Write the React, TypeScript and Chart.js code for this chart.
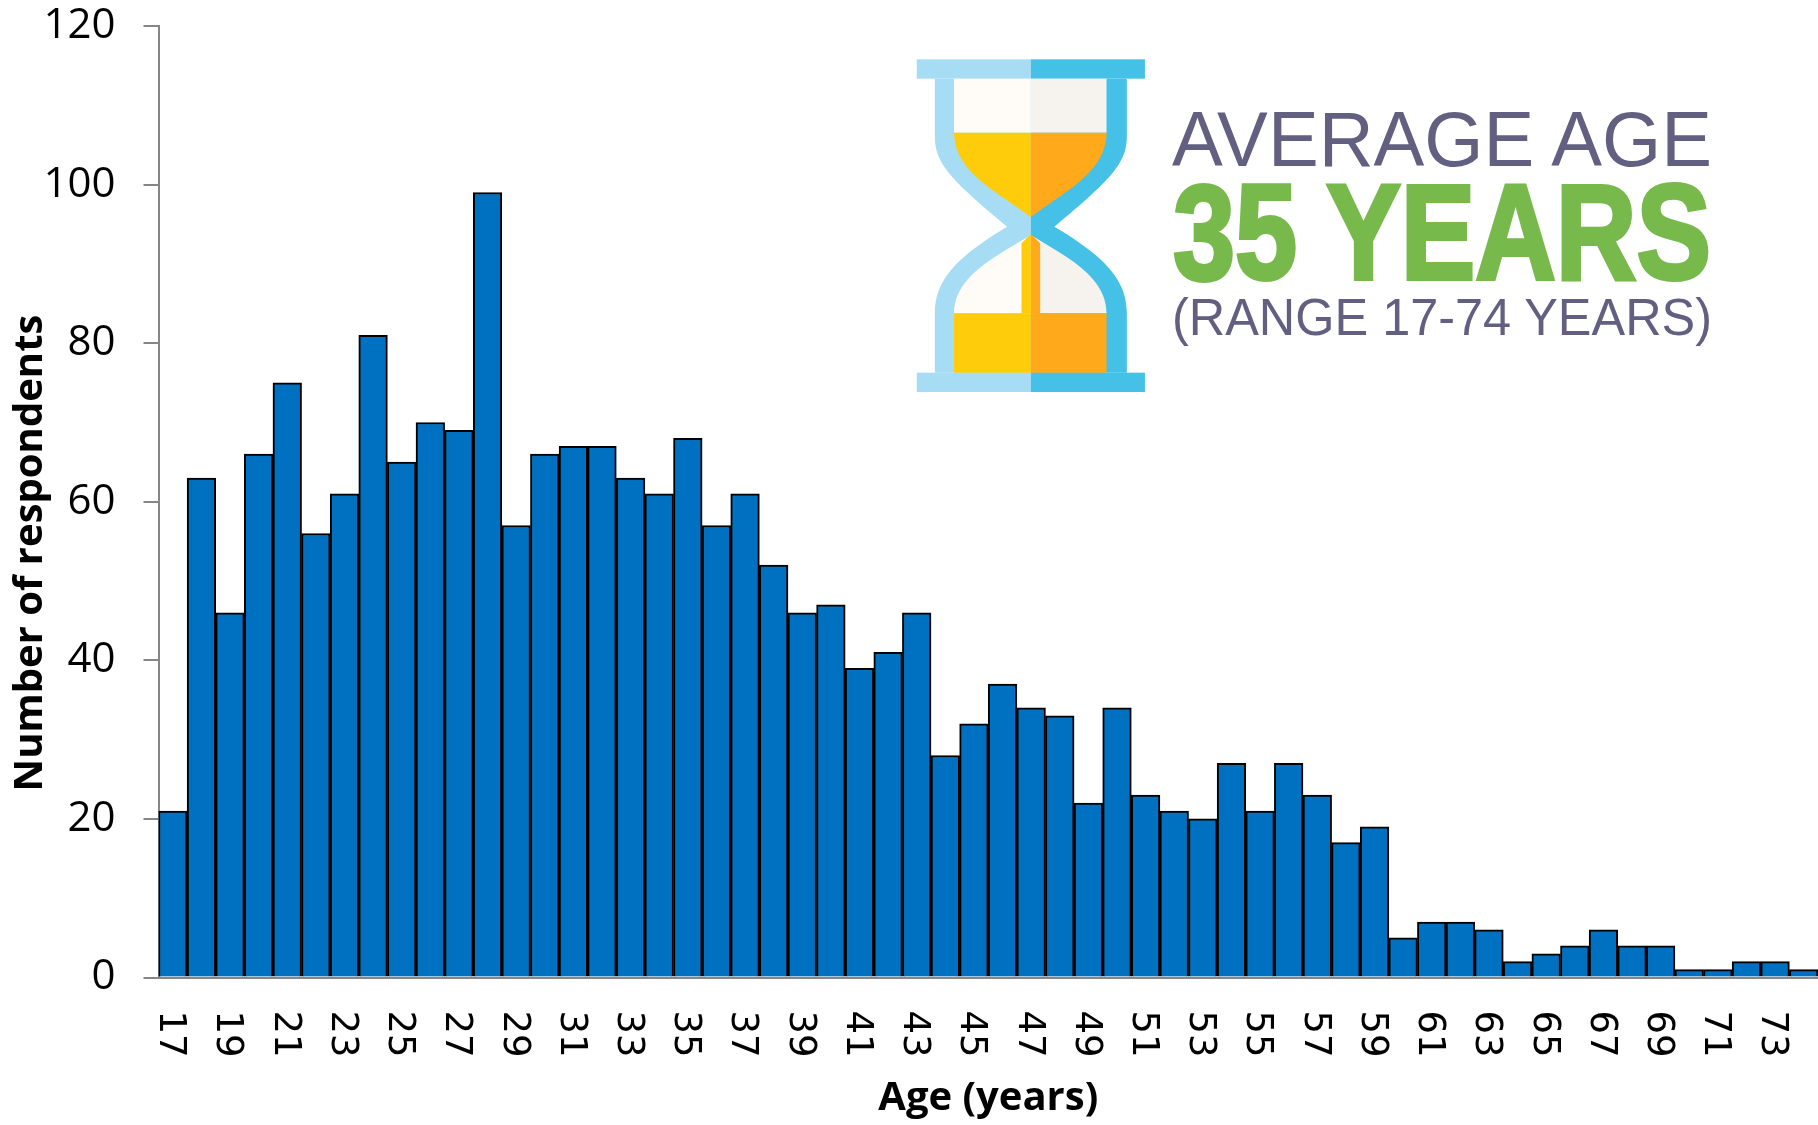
import React, { useEffect, useRef } from "react";
import { Chart, registerables } from "chart.js";

Chart.register(...registerables);

const ages = [17,18,19,20,21,22,23,24,25,26,27,28,29,30,31,32,33,34,35,36,37,38,39,40,41,42,43,44,45,46,47,48,49,50,51,52,53,54,55,56,57,58,59,60,61,62,63,64,65,66,67,68,69,70,71,72,73,74];
const respondents = [21,63,46,66,75,56,61,81,65,70,69,99,57,66,67,67,63,61,68,57,61,52,46,47,39,41,46,28,32,37,34,33,22,34,23,21,20,27,21,27,23,17,19,5,7,7,6,2,3,4,6,4,4,1,1,2,2,1];
const yTitle = "Number of respondents";
const xTitle = "Age (years)";
const sansBold = '"Open Sans", sans-serif';

const yTitlePlugin = {
  id: "yTitle",
  afterDraw(chart: any) {
    const ctx = chart.ctx;
    ctx.save();
    ctx.translate(31, 553);
    ctx.rotate(-Math.PI / 2);
    ctx.font = `bold 40px ${sansBold}`;
    ctx.fillStyle = "#000";
    ctx.textAlign = "center";
    ctx.textBaseline = "middle";
    ctx.fillText(yTitle, 0, 0);
    ctx.restore();
  },
};

export default function App() {
  const ref = useRef<HTMLCanvasElement>(null);
  useEffect(() => {
    const chart = new Chart(ref.current!, {
      type: "bar",
      data: {
        labels: ages,
        datasets: [{
          data: respondents,
          backgroundColor: "#0070C0",
          borderColor: "#000000",
          borderWidth: 2,
          categoryPercentage: 1,
          barPercentage: 1,
        }],
      },
      plugins: [yTitlePlugin],
      options: {
        responsive: false,
        animation: false,
        layout: { padding: { top: 26, left: 0, right: 0, bottom: 0 } },
        plugins: { legend: { display: false }, tooltip: { enabled: false } },
        scales: {
          x: {
            type: "category",
            grid: { display: false },
            border: { color: "#868686", width: 2 },
            ticks: {
              autoSkip: false,
              minRotation: -90,
              maxRotation: -90,
              padding: 72,
              labelOffset: -3,
              color: "#000",
              font: { family: '"DejaVu Sans"', size: 37 },
              callback(_v: any, i: number) { return i % 2 === 0 ? String(ages[i]) : ""; },
            },
            title: { display: true, text: xTitle, color: "#000", font: { family: sansBold, size: 40, weight: "bold" }, padding: { top: 0, bottom: 2 } },
            afterFit(s: any) { s.height = 147.5; s.paddingLeft = 0; s.paddingRight = 0; },
          },
          y: {
            min: 0,
            max: 120,
            ticks: { stepSize: 20, padding: 28, color: "#000", font: { family: sansBold, size: 42 } },
            grid: { drawOnChartArea: false, color: "#868686", lineWidth: 2, tickLength: 15 },
            border: { color: "#868686", width: 2 },
            afterFit(s: any) { s.width = 158.5; s.paddingTop = 0; s.paddingBottom = 0; },
          },
        },
      },
    } as any);
    return () => chart.destroy();
  }, []);

  return (
    <div style={{ position: "absolute", left: 0, top: 0, width: 1818, height: 1125, background: "#fff", overflow: "hidden" }}>
      <canvas ref={ref} width={1818} height={1125} style={{ display: "block" }} />
      <svg width={1818} height={1125} style={{ position: "absolute", left: 0, top: 0, pointerEvents: "none" }}>
        <g transform="translate(880,30) scale(0.5485,0.33333)">
          <path d="M275,146 L100,146 L100,320 C100,400 130,450 232,590 C140,680 100,750 100,850 L100,1028 L275,1028 Z" fill="#A6DDF5" />
          <path d="M275,146 L450,146 L450,320 C450,400 420,450 318,590 C410,680 450,750 450,850 L450,1028 L275,1028 Z" fill="#45C1E8" />
          <rect x={67} y={88} width={208} height={58} fill="#A6DDF5" />
          <rect x={275} y={88} width={208} height={58} fill="#45C1E8" />
          <rect x={67} y={1028} width={208} height={58} fill="#A6DDF5" />
          <rect x={275} y={1028} width={208} height={58} fill="#45C1E8" />
          <path d="M135,146 H275 V308 H135 Z" fill="#FFFCF8" />
          <path d="M275,146 H413 V308 H275 Z" fill="#F6F2EE" />
          <path d="M135,308 H275 V562 C220,490 135,430 135,308 Z" fill="#FFCC0B" />
          <path d="M275,308 H413 C413,430 330,490 275,562 Z" fill="#FFA91B" />
          <path d="M275,615 C210,680 135,740 135,850 H275 Z" fill="#FFFCF8" />
          <path d="M275,615 C340,680 413,740 413,850 H275 Z" fill="#F6F2EE" />
          <path d="M258,850 V640 L275,612 V850 Z" fill="#FFCC0B" />
          <path d="M292,850 V640 L275,612 V850 Z" fill="#FFA91B" />
          <rect x={135} y={850} width={140} height={178} fill="#FFCC0B" />
          <rect x={275} y={850} width={138} height={178} fill="#FFA91B" />
        </g>
        <text x={1172} y={166} textLength={540} lengthAdjust="spacingAndGlyphs" fontFamily="Liberation Sans" fontSize={78} fill="#625F80">AVERAGE AGE</text>
        <text x={1173} y={279} textLength={538} lengthAdjust="spacingAndGlyphs" fontFamily="Liberation Sans" fontWeight="bold" fontSize={136} fill="#78B94C" stroke="#78B94C" strokeWidth={4}>35 YEARS</text>
        <text x={1172} y={335} textLength={540} lengthAdjust="spacingAndGlyphs" fontFamily="Liberation Sans" fontSize={51} fill="#625F80">(RANGE 17-74 YEARS)</text>
      </svg>
    </div>
  );
}
